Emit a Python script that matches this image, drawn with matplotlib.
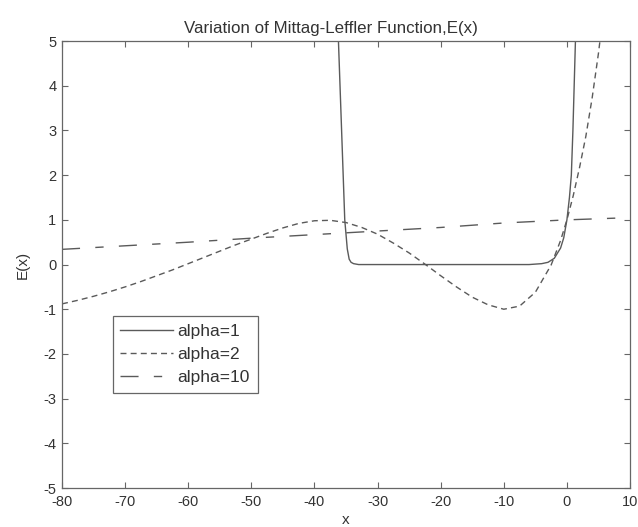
import matplotlib
matplotlib.use("Agg")
import matplotlib.pyplot as plt

plt.rcParams['font.family'] = ['Liberation Sans', 'DejaVu Sans']
plt.rcParams['axes.unicode_minus'] = False

# E_1(x): blows up numerically near x=-35, flat ~0, then exponential rise
x_a1 = [-36.6, -36.2, -35.7, -35.2, -34.8, -34.5, -34.2, -33.8, -33.0, -30, -20,
        -10, -6, -4, -3, -2, -1, -0.5, 0, 0.4, 0.7, 0.95, 1.15, 1.35, 1.5]
e_a1 = [6.5, 5.0, 3.0, 1.0, 0.35, 0.12, 0.05, 0.02, 0.0, 0.0, 0.0,
        0.0, 0.0, 0.02, 0.05, 0.14, 0.37, 0.6, 1.0, 1.5, 2.0, 3.0, 4.0, 5.0, 5.6]

# E_2(x): oscillating for negative x
x_a2 = [-80, -77.5, -75, -72.5, -70, -67.5, -65, -62.5, -60, -57.5, -55, -52.5,
        -50, -47.5, -45, -42.5, -40, -37.5, -35, -32.5, -30, -27.5, -25, -22.5,
        -20, -17.5, -15, -12.5, -10, -7.5, -5, -2.5, -1, 0, 1, 2, 3, 4, 5, 6]
e_a2 = [-0.88, -0.80, -0.71, -0.61, -0.50, -0.38, -0.25, -0.12, 0.02, 0.16, 0.30, 0.44,
        0.57, 0.70, 0.82, 0.92, 0.98, 0.99, 0.94, 0.83, 0.68, 0.48, 0.26, 0.01,
        -0.25, -0.50, -0.73, -0.90, -1.0, -0.93, -0.62, -0.01, 0.54, 1.0, 1.54, 2.17, 2.87, 3.73, 4.73, 5.9]

# E_10(x): slowly increasing
x_a10 = [-80, -70, -60, -50, -40, -30, -20, -10, 0, 10]
e_a10 = [0.34, 0.42, 0.50, 0.59, 0.67, 0.75, 0.83, 0.93, 1.0, 1.05]

line_col = '#5a5a5a'
text_col = '#333333'

fig = plt.figure(figsize=(6.38, 5.27), dpi=100)
ax = fig.add_axes([0.0972, 0.074, 0.8903, 0.848])

ax.plot(x_a1, e_a1, color=line_col, lw=1.0, label='alpha=1')
ax.plot(x_a2, e_a2, color=line_col, lw=1.0, dashes=(4.3, 3.0), label='alpha=2')
ax.plot(x_a10, e_a10, color=line_col, lw=1.0, dashes=(13, 11, 6, 11), label='alpha=10')

ax.set_xlim(-80, 10)
ax.set_ylim(-5, 5)
ax.set_xticks(range(-80, 11, 10))
ax.set_yticks(range(-5, 6))
ax.tick_params(direction='in', top=True, right=True, length=4, width=0.8,
               colors='#666666', labelcolor=text_col, labelsize=10.5)
ax.tick_params(axis='x', pad=5)
ax.tick_params(axis='y', pad=4)
for s in ax.spines.values():
    s.set_color('#666666')
    s.set_linewidth(0.9)

ax.set_title('Variation of Mittag-Leffler Function,E(x)', fontsize=12.2, color=text_col,
             pad=6, x=0.474)
ax.set_xlabel('x', fontsize=11, color=text_col, labelpad=3)
ax.set_ylabel('E(x)', fontsize=11, color=text_col, labelpad=10)

leg = ax.legend(loc='lower left', bbox_to_anchor=(0.089, 0.213), borderaxespad=0,
                fancybox=False, framealpha=1, edgecolor='#666666', fontsize=12.5,
                handlelength=3.05, handletextpad=0.23, labelspacing=0.45, borderpad=0.45)
for t in leg.get_texts():
    t.set_color(text_col)
leg.get_frame().set_linewidth(0.9)

fig.savefig('out.png', dpi=100)
